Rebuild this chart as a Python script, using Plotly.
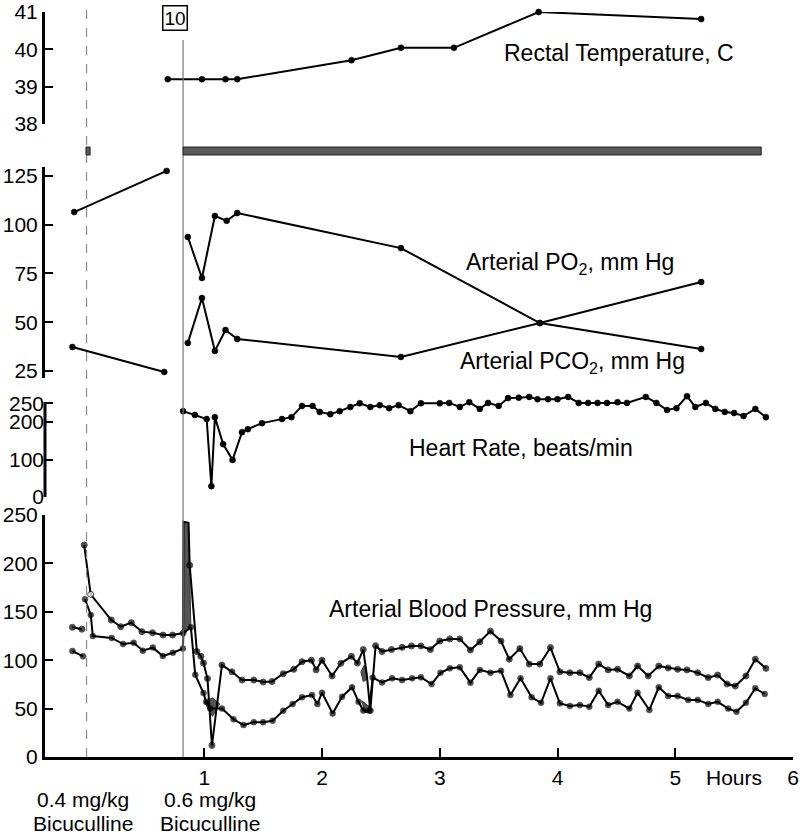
import plotly.graph_objects as go

# ---------------- data (hours after first bicuculline dose) ----------------
dose1_h = 0.0
dose2_h = 0.82
bar_start = 0.82
bar_end = 5.73

temp_h = [0.69, 0.98, 1.18, 1.28, 2.25, 2.67, 3.12, 3.84, 5.22]
temp_v = [39.2, 39.2, 39.2, 39.2, 39.71, 40.04, 40.04, 41.0, 40.81]

po2_h = [-0.105, 0.68, None, 0.86, 0.98, 1.09, 1.19, 1.28, 2.67, 3.85, 5.22]
po2_v = [106.5, 127.6, None, 93.7, 72.7, 104.5, 102, 106, 88, 49.6, 36.3]

pco2_h = [-0.12, 0.66, None, 0.86, 0.98, 1.09, 1.18, 1.28, 2.67, 3.85, 5.22]
pco2_v = [37.3, 24.5, None, 39.4, 62.4, 35.3, 46, 41.4, 32.2, 49.6, 70.6]

hr_h = [0.82, 0.92, 1.02, 1.06, 1.09, 1.16, 1.24, 1.32, 1.37, 1.49,
        1.66, 1.74, 1.83, 1.92, 1.98, 2.07, 2.15, 2.24, 2.32, 2.41,
        2.49, 2.57, 2.65, 2.75, 2.84, 3.0, 3.08, 3.17, 3.25, 3.34,
        3.41, 3.50, 3.58, 3.67, 3.76, 3.83, 3.92, 4.0, 4.09, 4.18,
        4.26, 4.34, 4.42, 4.51, 4.59, 4.75, 4.84, 4.93, 5.01, 5.10,
        5.17, 5.26, 5.34, 5.42, 5.50, 5.58, 5.68, 5.77]
hr_v = [229, 219, 208, 29, 213, 141, 99, 173, 181, 197,
        208, 213, 243, 243, 227, 221, 229, 240, 250, 240,
        245, 237, 245, 229, 250, 250, 251, 240, 253, 235,
        251, 243, 264, 265, 267, 261, 261, 261, 267, 251,
        251, 251, 251, 253, 251, 267, 251, 232, 237, 269,
        240, 251, 235, 227, 224, 216, 235, 213]

bp_sys_h = [-0.12, -0.04, None, -0.02, 0.035, 0.21, 0.29, 0.38, 0.47, 0.56,
            0.65, 0.73, 0.82, 0.823, 0.866, 0.876, 0.937, 0.971, 0.993, 1.027,
            1.065, 1.15, 1.235, 1.32, 1.42, 1.50, 1.575, 1.67, 1.76, 1.83,
            1.91, 1.95, 2.0, 2.085, 2.16, 2.25, 2.30, 2.35, 2.38, 2.41,
            2.455, 2.51, 2.59, 2.68, 2.76, 2.84, 2.92, 3.0, 3.085, 3.17,
            3.26, 3.34, 3.43, 3.52, 3.59, 3.68, 3.76, 3.85, 3.94, 4.02,
            4.105, 4.19, 4.27, 4.35, 4.43, 4.51, 4.61, 4.68, 4.77, 4.86,
            4.94, 5.02, 5.10, 5.19, 5.28, 5.36, 5.44, 5.51, 5.60, 5.68,
            5.77]
bp_sys_v = [134, 132, None, 219, 168, 141.5, 134.6, 138.8, 129.5, 128.4,
            126, 126, 128, 243, 242, 198, 109, 104, 97, 81,
            12, 95, 88, 79.5, 79.5, 77.5, 78, 86, 90.6, 98.5,
            100, 90, 100, 83.7, 96.8, 104, 97, 111, 85, 48,
            115, 109, 111, 113.3, 114.7, 114.7, 111, 119.8, 122, 122,
            110.5, 119, 130, 119.8, 101, 112, 96, 96, 113, 88,
            87, 87, 82, 96, 90, 90.6, 83.7, 94, 83.7, 94,
            92, 90.6, 90, 87, 82, 84.7, 75.4, 73.3, 83.7, 101,
            91.6]
bp_sys_open = [0.035]
bp_no_marker = [0.823, 0.866, 2.38]

bp_dia_h = [-0.12, -0.03, None, -0.013, 0.036, 0.053, 0.214, 0.31, 0.40, 0.478,
            0.563, 0.648, 0.733, 0.818, 0.823, 0.886, 0.923, 0.993, 1.016, 1.05,
            1.15, 1.248, 1.333, 1.42, 1.50, 1.58, 1.67, 1.75, 1.83, 1.915,
            1.96, 2.0, 2.09, 2.17, 2.255, 2.31, 2.35, 2.40, 2.43, 2.51,
            2.595, 2.68, 2.765, 2.84, 2.93, 3.006, 3.085, 3.17, 3.26, 3.34,
            3.43, 3.52, 3.60, 3.686, 3.78, 3.86, 3.94, 4.02, 4.105, 4.19,
            4.27, 4.35, 4.43, 4.51, 4.61, 4.68, 4.78, 4.86, 4.94, 5.02,
            5.11, 5.19, 5.28, 5.36, 5.45, 5.52, 5.60, 5.68, 5.76]
bp_dia_v = [109.5, 104, None, 163, 146.7, 125, 123, 116.7, 118, 109.8,
            113, 104.3, 107.7, 112, 128, 134, 85, 66, 57, 50,
            50, 39, 33, 36, 36, 37.5, 47.8, 54.7, 61.7, 64,
            54.7, 66.4, 45, 62.3, 72, 57, 48, 48, 82, 77,
            81.3, 79.5, 81.3, 82.3, 75.4, 87, 91.6, 92.6, 76.8, 90,
            87, 89, 64, 81.3, 61.7, 56, 81.3, 55.4, 52.7, 53.7,
            52, 68.5, 53.7, 57, 50, 66.4, 48.6, 72, 63, 63,
            59, 59, 54.7, 57, 50, 46.8, 56, 71, 65]

# shaded regions in the blood-pressure trace
shade_spike_h = [0.818, 0.823, 0.866, 0.886, 0.818]
shade_spike_v = [128, 243, 242, 134, 128]
shade_dip_h = [1.0, 1.07, 1.13, 1.07, 1.0]
shade_dip_v = [57, 61, 55, 42, 57]
shade_mid1_h = [2.33, 2.36, 2.38, 2.35, 2.33]
shade_mid1_v = [88, 95, 80, 78, 88]
shade_mid2_h = [2.34, 2.40, 2.40, 2.36, 2.34]
shade_mid2_v = [58, 52, 46, 46, 58]

temp_ticks = [38, 39, 40, 41]
gas_ticks = [25, 50, 75, 100, 125]
hr_ticks = [0, 100, 200, 250]
bp_ticks = [0, 50, 100, 150, 200, 250]
hour_ticks = [1, 2, 3, 4, 5, 6]

assert len(hr_h) == len(hr_v)
assert len(bp_sys_h) == len(bp_sys_v)
assert len(bp_dia_h) == len(bp_dia_v)

# ---------------- figure ----------------
FONT = "Liberation Sans, Arial, Helvetica, sans-serif"
FS = 21
FA = 23
fig = go.Figure()

mk = dict(color="black", size=6, line=dict(color="black", width=0.5))
ln = dict(color="black", width=2)


def add_series(x, y, yaxis, marker=None):
    fig.add_trace(go.Scatter(x=x, y=y, mode="lines+markers", xaxis="x", yaxis=yaxis,
                             line=ln, marker=marker or mk, cliponaxis=False,
                             showlegend=False, hoverinfo="skip"))


def add_shade(x, y):
    fig.add_trace(go.Scatter(x=x, y=y, mode="lines", fill="toself", fillcolor="#555555",
                             line=dict(color="#333333", width=1), xaxis="x", yaxis="y4",
                             showlegend=False, hoverinfo="skip"))


add_series(temp_h, temp_v, "y")
add_series(po2_h, po2_v, "y2")
add_series(pco2_h, pco2_v, "y2")
add_series(hr_h, hr_v, "y3")
for sx, sy in [(shade_spike_h, shade_spike_v), (shade_dip_h, shade_dip_v),
               (shade_mid1_h, shade_mid1_v), (shade_mid2_h, shade_mid2_v)]:
    add_shade(sx, sy)
sys_colors = ["white" if h in bp_sys_open else "black" for h in bp_sys_h]
sys_sizes = [0 if h in bp_no_marker else 6 for h in bp_sys_h]
dia_sizes = [0 if h in bp_no_marker else 6 for h in bp_dia_h]
add_series(bp_sys_h, bp_sys_v, "y4",
           marker=dict(color=sys_colors, size=sys_sizes, line=dict(color="black", width=1)))
add_series(bp_dia_h, bp_dia_v, "y4",
           marker=dict(color="black", size=dia_sizes, line=dict(color="black", width=0.5)))

FIG_W, FIG_H = 801, 837
PAGE_BOTTOM = 757          # pixel row of the time axis
H_PLOT = PAGE_BOTTOM


def py(px):
    return (PAGE_BOTTOM - px) / H_PLOT


def dom(px_bottom, px_top):
    return [py(px_bottom), py(px_top)]


yax_common = dict(ticks="inside", ticklen=8, tickwidth=2, tickcolor="black",
                  showgrid=False, zeroline=False, anchor="x", automargin=False,
                  tickfont=dict(family=FONT, size=FS, color="black"),
                  linecolor="black", linewidth=3)

fig.update_layout(
    width=FIG_W, height=FIG_H,
    margin=dict(l=45, r=FIG_W - 793, t=0, b=FIG_H - H_PLOT, autoexpand=False),
    paper_bgcolor="white", plot_bgcolor="white",
    font=dict(family=FONT, size=FA, color="black"),
    xaxis=dict(range=[-0.353, 6.0], tickvals=hour_ticks, ticks="inside", ticklen=9,
               tickwidth=2, tickcolor="black", showline=True, linecolor="black",
               linewidth=3, showgrid=False, zeroline=False, anchor="y4", automargin=False,
               tickfont=dict(family=FONT, size=FS, color="black")),
    yaxis=dict(domain=dom(124, 12), range=[38, 41], tickvals=temp_ticks,
               showline=True, **yax_common),
    yaxis2=dict(domain=dom(378, 167), range=[21.4, 129.6], tickvals=gas_ticks,
                showline=True, **yax_common),
    yaxis3=dict(domain=dom(497, 393.9), range=[0, 275], tickvals=hr_ticks,
                showline=False, **yax_common),
    yaxis4=dict(domain=dom(757, 515), range=[0, 250], tickvals=bp_ticks,
                showline=True, **yax_common),
)

shapes = [
    # hand-drawn axis line for heart rate (ends at 250)
    dict(type="line", xref="paper", x0=0, x1=0, yref="y3", y0=0, y1=253,
         line=dict(color="black", width=3)),
    # injection markers
    dict(type="line", xref="x", x0=dose1_h, x1=dose1_h, yref="paper", y0=0, y1=py(10),
         line=dict(color="#8a8a8a", width=1.2, dash="dash")),
    dict(type="line", xref="x", x0=dose2_h, x1=dose2_h, yref="paper", y0=0, y1=py(40),
         line=dict(color="#7a7a7a", width=1.2)),
    # infusion bar
    dict(type="rect", xref="x", x0=bar_start, x1=bar_end, yref="paper",
         y0=py(155), y1=py(147),
         fillcolor="#5a5a5a", line=dict(color="#222", width=1)),
    dict(type="rect", xref="x", x0=dose1_h - 0.005, x1=dose1_h + 0.03, yref="paper",
         y0=py(155), y1=py(147),
         fillcolor="#5a5a5a", line=dict(color="#222", width=1)),
]
fig.update_layout(shapes=shapes)

mid = dict(showarrow=False, xanchor="center", yanchor="middle")
FD = 21
ann = [
    dict(x=0.75, y=py(18), xref="x", yref="paper", text="10",
         bordercolor="black", borderwidth=1.5, borderpad=1,
         bgcolor="white", font=dict(size=19), **mid),
    dict(x=4.52, y=39.9, xref="x", yref="y", text="Rectal Temperature, C", **mid),
    dict(x=4.11, y=79.9, xref="x", yref="y2", text="Arterial PO<sub>2</sub>, mm Hg", **mid),
    dict(x=4.13, y=29.6, xref="x", yref="y2", text="Arterial PCO<sub>2</sub>, mm Hg", **mid),
    dict(x=3.69, y=131, xref="x", yref="y3", text="Heart Rate, beats/min", **mid),
    dict(x=3.43, y=153, xref="x", yref="y4", text="Arterial Blood Pressure, mm Hg", **mid),
    dict(x=5.5, y=py(777), xref="x", yref="paper", text="Hours", font=dict(size=FS), **mid),
    dict(x=-0.03, y=py(799), xref="x", yref="paper", text="0.4 mg/kg",
         font=dict(size=FD), **mid),
    dict(x=-0.03, y=py(823), xref="x", yref="paper", text="Bicuculline",
         font=dict(size=FD), **mid),
    dict(x=1.05, y=py(799), xref="x", yref="paper", text="0.6 mg/kg",
         font=dict(size=FD), **mid),
    dict(x=1.05, y=py(823), xref="x", yref="paper", text="Bicuculline",
         font=dict(size=FD), **mid),
]
fig.update_layout(annotations=ann)

fig.write_html("out.html",
               config={"displayModeBar": False},
               post_script="document.body.style.margin='0';"
                           "document.body.style.overflow='hidden';")
